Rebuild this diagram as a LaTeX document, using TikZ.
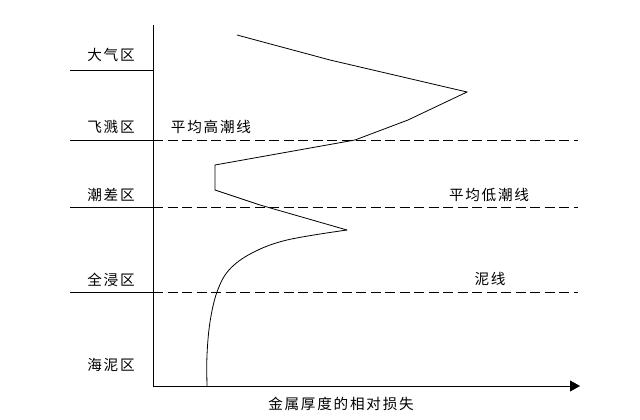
\documentclass[tikz,border=0pt]{standalone}
\usepackage{fontspec}
\newfontfamily\cjk[LetterSpace=12]{Noto Sans CJK SC}
\usetikzlibrary{arrows.meta}
\begin{document}
\begin{tikzpicture}[x=1pt,y=-1pt,
  lbl/.style={font=\cjk\fontsize{14.6}{16}\selectfont, inner sep=0pt, text=black},
  solidline/.style={line width=0.9pt, black},
  dashline/.style={line width=0.9pt, black, dash pattern=on 10pt off 4.5pt},
  curveline/.style={line width=0.8pt, black, line join=miter}]
\useasboundingbox[fill=white] (0,0) rectangle (640,420);
% axes
\coordinate (top) at (153,25);
\coordinate (origin) at (153,386);
\coordinate (xend) at (580,386);
\draw[solidline] (top) -- (origin);
\draw[solidline,-{Triangle[length=10pt,width=11pt]}] (origin) -- (xend);
% zone separators
\foreach \y/\n in {70/a,140/b,207/c,292/d}{
  \coordinate (L\n) at (70,\y);
  \coordinate (A\n) at (153,\y);
  \draw[solidline] (L\n) -- (A\n);
}
\foreach \n in {b,c,d}{
  \path (A\n) ++(425,0) coordinate (R\n);
  \draw[dashline] (A\n) -- (R\n);
}
% zone labels
\node[lbl] (z1) at (111,55) {大气区};
\node[lbl] (z2) at (111,127) {飞溅区};
\node[lbl] (z3) at (111,195) {潮差区};
\node[lbl] (z4) at (111,280) {全浸区};
\node[lbl] (z5) at (111,365) {海泥区};
% line labels
\node[lbl] (gh) at (211,127) {平均高潮线};
\node[lbl] (gl) at (489,195) {平均低潮线};
\node[lbl] (mud) at (490,279) {泥线};
\node[lbl] (xl) at (341,404) {金属厚度的相对损失};
% curve
\draw[curveline] (237,35) -- (330,60) -- (467,92) -- (408,120) -- (355,140) -- (215,165) -- (215,190) -- (260,205) -- (347,230);
\draw[curveline] plot[smooth, tension=0.6] coordinates {(347,230) (287,240) (252,253) (229,270) (217,292) (210,322) (207,355) (207,386)};
\end{tikzpicture}
\end{document}
